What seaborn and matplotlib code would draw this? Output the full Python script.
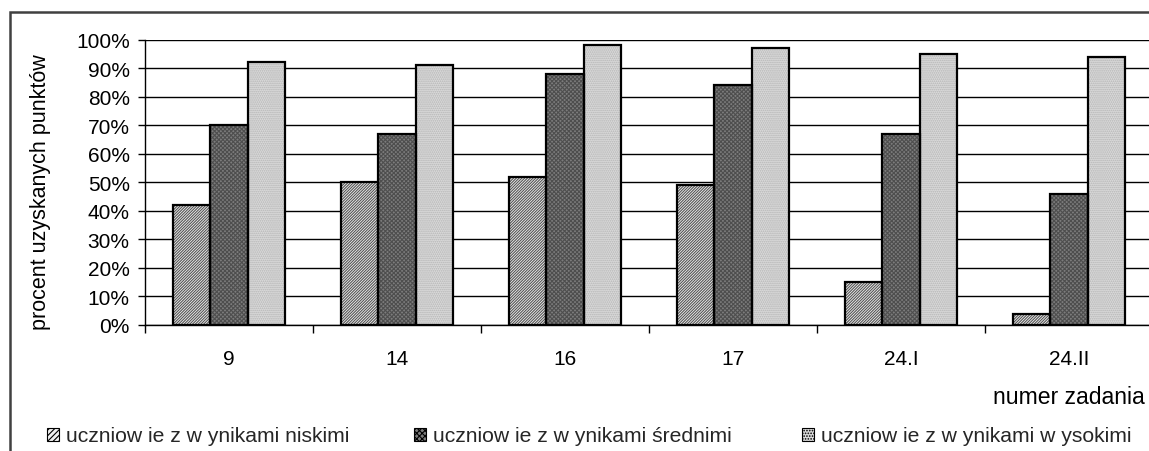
import numpy as np
import pandas as pd
import seaborn as sns
import matplotlib
matplotlib.use("Agg")
import matplotlib.pyplot as plt
from matplotlib.patches import Rectangle, Patch

# ---- data ----
categories = ["9", "14", "16", "17", "24.I", "24.II"]
series_names = [
    "uczniow ie z w ynikami niskimi",
    "uczniow ie z w ynikami średnimi",
    "uczniow ie z w ynikami w ysokimi",
]
low_vals = [42, 50, 52, 49, 15, 4]
mid_vals = [70, 67, 88, 84, 67, 46]
high_vals = [92, 91, 98, 97, 95, 94]
y_ticks = [0, 10, 20, 30, 40, 50, 60, 70, 80, 90, 100]
y_label = "procent uzyskanych punktów"
x_label = "numer zadania"

# ---- styles ----
face_colors = ["#f2f2f2", "#7c7c7c", "#dadada"]
hatch_colors = ["#555555", "#4e4e4e", "#b4b4b4"]
hatches = ["////////////", "xxxxxxxx", "........"]

sns.set_theme(style="white")
plt.rcParams["font.family"] = ["Liberation Sans", "DejaVu Sans"]
plt.rcParams["hatch.linewidth"] = 0.8

W, H = 1149, 452
fig = plt.figure(figsize=(W / 100, H / 100), dpi=100)
ax = fig.add_axes([145 / W, 126 / H, 1008 / W, 285.5 / H])

df = pd.DataFrame({
    "zadanie": categories * 3,
    "grupa": [series_names[0]] * 6 + [series_names[1]] * 6 + [series_names[2]] * 6,
    "wynik": low_vals + mid_vals + high_vals,
})

sns.barplot(data=df, x="zadanie", y="wynik", hue="grupa", order=categories,
            hue_order=series_names, palette=face_colors, saturation=1,
            width=0.667, legend=False, ax=ax, zorder=3)

for i, cont in enumerate(ax.containers):
    for bar in cont:
        bar.set_edgecolor("none")
        bar.set_linewidth(0)
        x, y = bar.get_xy()
        w, h = bar.get_width(), bar.get_height()
        hr = Rectangle((x, y), w, h, facecolor="none", edgecolor=hatch_colors[i],
                       hatch=hatches[i], linewidth=0, zorder=4)
        ax.add_patch(hr)
        ol = Rectangle((x, y), w, h, facecolor="none", edgecolor="black",
                       linewidth=1.6, zorder=5)
        ax.add_patch(ol)

ax.set_xlim(-0.5, 5.5)
ax.set_ylim(0, 100)
ax.set_axisbelow(True)
ax.yaxis.grid(True, color="black", linewidth=1.0)
ax.xaxis.grid(False)
for s in ["top", "right"]:
    ax.spines[s].set_visible(False)
for s in ["left", "bottom"]:
    ax.spines[s].set_color("black")
    ax.spines[s].set_linewidth(1.0)

ax.set_yticks(y_ticks)
ax.set_yticklabels([f"{v}%" for v in y_ticks])
ax.tick_params(axis="y", direction="out", length=5, width=1, color="black",
               left=True, pad=6, labelsize=15, labelcolor="black")

ax.set_xticks([k - 0.5 for k in range(len(categories) + 1)])
ax.set_xticklabels([""] * (len(categories) + 1))
ax.set_xticks(range(len(categories)), minor=True)
ax.set_xticklabels(categories, minor=True)
ax.tick_params(axis="x", which="major", direction="out", length=6, width=1,
               color="black", bottom=True)
ax.tick_params(axis="x", which="minor", length=0, pad=17, labelsize=15,
               labelcolor="black", bottom=True)

ax.set_xlabel("")
ax.set_ylabel(y_label, fontsize=15.5, color="black")
ax.yaxis.set_label_coords(-0.093, 0.47)

fig.text(993 / W, 1 - 398 / H, x_label, fontsize=16.6, va="center", ha="left",
         color="black")

legend_x = [47, 414, 802]
for i in range(3):
    h = Patch(facecolor=face_colors[i], edgecolor="black", linewidth=0.8,
              hatch=hatches[i][:6])
    fig.legend([h], [series_names[i]], loc="center left",
               bbox_to_anchor=(legend_x[i] / W, 1 - 437 / H), frameon=False,
               fontsize=15.2, handlelength=0.57, handleheight=0.57,
               handletextpad=0.33, borderpad=0, borderaxespad=0)

frame = Rectangle((10 / W, -0.1), 2.0, 1.1 - 13 / H, transform=fig.transFigure,
                  fill=False, edgecolor="#404040", linewidth=1.8, clip_on=False)
fig.add_artist(frame)

fig.savefig("out.png", dpi=100)
